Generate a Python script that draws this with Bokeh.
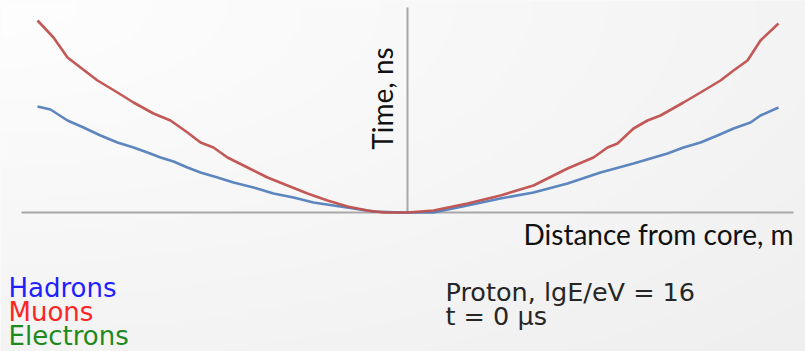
import numpy as np
from bokeh.plotting import figure
from bokeh.models import Label, Range1d
from bokeh.embed import file_html
from bokeh.resources import INLINE

# ---- data (distance from core, arbitrary units; arrival time, arbitrary units) ----
hadron_dist = [-370, -357, -340, -324, -307, -290, -274, -260, -247, -234, -220, -207,
               -190, -174, -154, -134, -114, -94, -74, -54, -34, -7, 0,
               26, 60, 93, 126, 160, 193, 226, 243, 260, 276, 293, 310, 326, 343, 353, 371]
hadron_time = [106, 103, 92, 85, 77, 70, 65, 60, 55, 51, 45, 40,
               35, 30, 25, 19, 15, 10, 7, 4, 1, 0, 0,
               0, 7, 14, 20, 29, 40, 49, 54, 59, 65, 70, 77, 84, 90, 97, 105]

muon_dist = [-370, -354, -340, -327, -310, -290, -274, -254, -237, -220, -207, -194,
             -180, -160, -140, -120, -100, -80, -60, -40, -24, 0,
             26, 60, 93, 126, 160, 186, 200, 210, 226, 240, 253, 276, 293, 313, 326, 340, 353, 371]
muon_time = [192, 175, 155, 145, 132, 120, 110, 99, 92, 80, 70, 65,
             55, 45, 35, 27, 19, 12, 6, 2, 0, 0,
             2, 9, 17, 27, 44, 55, 65, 69, 84, 92, 97, 110, 120, 132, 142, 152, 172, 189]

legend_labels = ["Hadrons", "Muons", "Electrons"]
legend_colors = ["#1f1fff", "#ff2424", "#1e8a1e"]
info_lines = ["Proton, lgE/eV = 16", "t = 0 \u00b5s"]
x_title = "Distance from core, m"
y_title = "Time, ns"

axis_x_extent = [-386, 386]
axis_y_extent = [0, 205]

# ---- figure ----
xr = Range1d(-407, 398)
yr = Range1d(-139, 212)
p = figure(width=805, height=351, x_range=xr, y_range=yr,
           output_backend="svg", toolbar_location=None,
           x_axis_type=None, y_axis_type=None, min_border=0)
p.outline_line_color = None
p.background_fill_color = "#f7f7f7"
p.border_fill_color = "#f7f7f7"

# subtle background gradient
ny, nx = 120, 240
U, V = np.meshgrid(np.linspace(0, 1, nx), np.linspace(0, 1, ny))
dist = np.sqrt(U ** 2 + (1 - V) ** 2) / np.sqrt(2)
g = (254 - 15 * dist).astype(np.uint8)
img = np.empty((ny, nx), dtype=np.uint32)
view = img.view(dtype=np.uint8).reshape((ny, nx, 4))
view[:, :, 0] = g
view[:, :, 1] = g
view[:, :, 2] = g
view[:, :, 3] = 255
p.image_rgba(image=[img], x=xr.start, y=yr.start, dw=xr.end - xr.start, dh=yr.end - yr.start)

# axes lines
p.line(axis_x_extent, [0, 0], line_color="#a8a8a8", line_width=2)
p.line([0, 0], axis_y_extent, line_color="#a8a8a8", line_width=2)

# curves
p.line(hadron_dist, hadron_time, line_color="#5580bb", line_width=2.6, line_alpha=0.95)
p.line(muon_dist, muon_time, line_color="#c0504d", line_width=2.6, line_alpha=0.95)

# axis titles
p.add_layout(Label(x=386, y=-21, text=x_title, text_align="right", text_baseline="alphabetic",
                   text_font="Lato", text_font_size="28px", text_color="#111111"))
p.add_layout(Label(x=-26, y=114, text=y_title, angle=np.pi / 2, text_align="center",
                   text_baseline="alphabetic", text_font="Lato", text_font_size="28px",
                   text_color="#111111"))

# legend-like texts
leg_y = [-75, -99, -123]
for lab, col, yy in zip(legend_labels, legend_colors, leg_y):
    p.add_layout(Label(x=-399, y=yy, text=lab, text_align="left", text_baseline="alphabetic",
                       text_font="DejaVu Sans", text_font_size="26px", text_color=col))

info_y = [-79, -103]
for txt, yy in zip(info_lines, info_y):
    p.add_layout(Label(x=38, y=yy, text=txt, text_align="left", text_baseline="alphabetic",
                       text_font="DejaVu Sans", text_font_size="25.5px", text_color="#262626"))

open("out.html", "w").write(file_html(p, INLINE))
